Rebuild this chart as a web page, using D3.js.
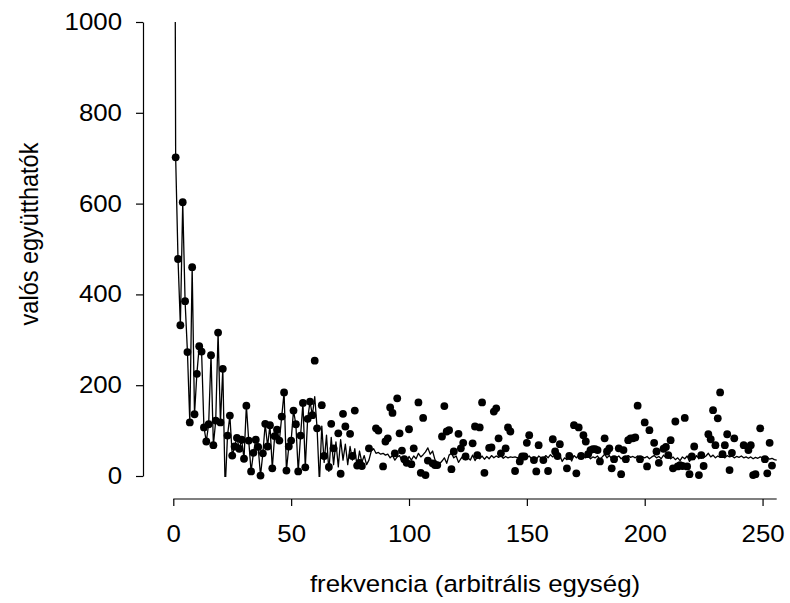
<!DOCTYPE html>
<html>
<head>
<meta charset="utf-8">
<script src="https://cdn.jsdelivr.net/npm/d3@7"></script>
<style>
  body { margin: 0; background: #fff; }
  text { font-family: Arial, "Liberation Sans", sans-serif; fill: #000; }
</style>
</head>
<body>
<svg id="chart" width="790" height="603"></svg>
<script>
// x ticks / y ticks
let xTicks = [0, 50, 100, 150, 200, 250];
let yTicks = [0, 200, 400, 600, 800, 1000];

// measured (noisy) real coefficients, index 1..255 (negative ones fall below the axis)
let dotValues = [
  702, 478, 332, 603, 385, 273, 118, 460, 136, 225, 286, 274, 107, 76, 114, 266, 68, 122, 316, 118,
  236, -30, 89, 133, 45, 65, 84, 60, 80, 38, 155, 78, 10, 51, 80, 64, 1, 50, 115, 65,
  112, 17, 88, 102, 78, 131, 184, 12, 65, 78, 144, 114, 10, 89, 161, 19, 126, 164, 134, 254,
  105, -40, 156, 44, -25, 20, 115, 61, -15, 94, 5, 137, 109, -20, 93, 44, 144, 23, 29, 22,
  -10, -30, 61, -20, -35, 105, 100, -15, 21, 76, 83, 151, 139, 50, 171, 94, 56, 37, 29, 103,
  26, 61, -20, 162, 7, 128, 2, 34, -10, 28, 24, 24, -30, 87, 154, 98, 101, 15, 54, -20,
  93, 61, 73, 43, -15, -25, 72, 109, 46, 107, 162, 7, -20, 62, 63, 142, 149, 83, 50, -30,
  61, 107, 98, -20, 11, -25, 32, 43, 43, 73, 90, -15, 35, 10, 68, -20, 35, -30, 11, -20,
  81, 54, 44, 70, -25, -15, 17, 44, -20, 112, 6, 107, 44, 90, 76, 48, 57, 59, 59, 57,
  32, -20, 83, 54, 61, 17, 37, -25, 61, 4, 57, 37, 79, 83, 83, 85, 155, 37, -20, 118,
  21, 101, -15, 73, 54, 29, -25, 60, 64, 46, 79, 17, 120, 21, 24, 22, 128, 21, 4, 43,
  65, -20, 2, 46, 22, -30, 92, 81, 145, 68, 127, 184, 48, 68, 92, 13, 51, 83, -20, -15,
  -30, 68, -20, 57, 68, 2, 4, -25, 105, -15, 37, 6, 73, 23, -20
];

// underlying coefficients, index 60..256 (below 60 the line runs through the dots, index 0 is off scale)
let lineStart = 2600;
let lineTail = [
  175, 105, -15, 110, 30, 90, 10, 85, 25, 75, 20, 80, 35, 70, 25, 65, 35, 60, 20, 55,
  30, 45, 25, 35, 55, 60, 50, 52, 48, 50, 46, 48, 40, 45, 35, 42, 45, 33, 40, 30,
  43, 35, 44, 38, 50, 42, 47, 53, 62, 48, 55, 36, 30, 27, 33, 40, 28, 46, 50, 40,
  44, 30, 38, 45, 36, 40, 35, 46, 34, 42, 38, 44, 37, 43, 38, 45, 40, 44, 41, 45,
  39, 43, 40, 42, 41, 42, 40, 43, 41, 43, 40, 44, 38, 42, 36, 44, 40, 38, 45, 40,
  47, 42, 48, 55, 45, 32, 40, 36, 44, 33, 45, 40, 46, 38, 43, 40, 44, 38, 42, 40,
  44, 36, 42, 48, 40, 45, 38, 43, 40, 44, 38, 42, 40, 45, 41, 43, 40, 44, 39, 42,
  40, 43, 38, 42, 45, 40, 43, 38, 46, 40, 44, 38, 42, 36, 40, 34, 42, 38, 44, 32,
  40, 36, 45, 38, 48, 40, 44, 50, 42, 46, 40, 44, 41, 43, 40, 45, 42, 44, 40, 43,
  41, 44, 40, 42, 39, 42, 38, 41, 39, 42, 40, 38, 41, 37, 39, 36, 35
];

let xTitle = "frekvencia (arbitrális egység)";
let yTitle = "valós együtthatók";

// build point lists
let dots = dotValues.map((v, i) => ({x: i + 1, y: v}));
let line = [{x: 0, y: lineStart}];
for (let i = 1; i < 60; i++) line.push({x: i, y: dotValues[i - 1]});
lineTail.forEach((v, i) => line.push({x: 60 + i, y: v}));

let svg = d3.select('#chart');

let xScale = d3.scaleLinear().domain([0, 256]).range([173.3, 776.7]);
let yScale = d3.scaleLinear().domain([0, 1000]).range([476, 22]);

// the original text is a little wider than it is tall
let fontSize = '23.5px';
let stretch = 1.1;

// line is cut at the plot edges
svg.append('clipPath').attr('id', 'plotClip')
  .append('rect')
  .attr('x', xScale(0) - 6).attr('y', yScale(1000))
  .attr('width', xScale(256) - xScale(0) + 12)
  .attr('height', yScale(0) - yScale(1000) + 1);

svg.append('path')
  .datum(line)
  .attr('clip-path', 'url(#plotClip)')
  .attr('fill', 'none')
  .attr('stroke', '#000')
  .attr('stroke-width', 1.3)
  .attr('stroke-linejoin', 'round')
  .attr('d', d3.line().x(d => xScale(d.x)).y(d => yScale(d.y)));

// dots below zero are not shown
svg.append('g').selectAll('circle')
  .data(dots.filter(d => d.y >= -2))
  .enter()
  .append('circle')
  .attr('cx', d => xScale(d.x))
  .attr('cy', d => yScale(d.y))
  .attr('r', 3.9)
  .attr('fill', '#000');

// axes, offset from the plot like the original
let xAxis = d3.axisBottom(xScale).tickValues(xTicks).tickFormat(d3.format('d'))
  .tickSize(7).tickPadding(19).tickSizeOuter(0);
let gx = svg.append('g').attr('transform', 'translate(0,499)').call(xAxis);
gx.select('.domain').attr('d', `M${xScale(0)},0H${xScale(256)}`);

let yAxis = d3.axisLeft(yScale).tickValues(yTicks).tickFormat(d3.format('d'))
  .tickSize(7).tickPadding(14).tickSizeOuter(0);
let gy = svg.append('g').attr('transform', 'translate(143,0)').call(yAxis);

svg.selectAll('.tick text')
  .style('font-size', fontSize)
  .style('font-family', 'Arial, "Liberation Sans", sans-serif');
gx.selectAll('.tick text').attr('transform', `scale(${stretch},1)`);
gy.selectAll('.tick text').attr('x', -21 / stretch).attr('transform', `scale(${stretch},1)`);
svg.selectAll('.domain, .tick line').attr('stroke', '#000').attr('stroke-width', 1.2);

svg.append('text')
  .attr('transform', `translate(${(xScale(0) + xScale(256)) / 2},592) scale(${stretch},1)`)
  .attr('text-anchor', 'middle')
  .style('font-size', fontSize)
  .text(xTitle);

svg.append('text')
  .attr('transform', `translate(38,234) scale(${stretch},1) rotate(-90)`)
  .attr('text-anchor', 'middle')
  .style('font-size', fontSize)
  .text(yTitle);
</script>
</body>
</html>
